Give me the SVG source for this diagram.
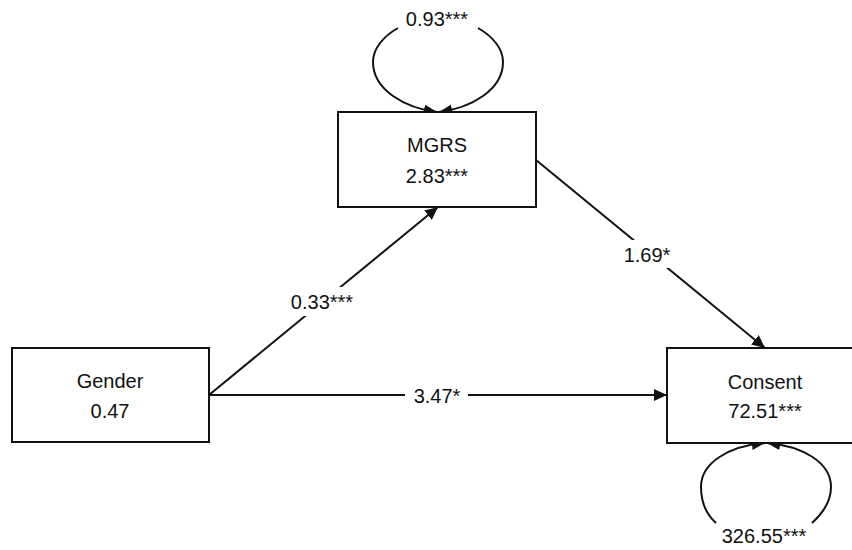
<svg xmlns="http://www.w3.org/2000/svg" width="852" height="550" viewBox="0 0 852 550">
  <defs>
    <style>
      .edge { fill: none; stroke: #111; stroke-width: 2; }
      .box { fill: #fff; stroke: #111; stroke-width: 2; }
      .lbl { font-family: "Liberation Sans", Arial, sans-serif; font-size: 20px; fill: #111; text-anchor: middle; }
      .bg { fill: #fff; stroke: none; }
    </style>
    <marker id="arrow" markerUnits="userSpaceOnUse" markerWidth="14" markerHeight="14" refX="13" refY="6" orient="auto">
      <path d="M0,0 L13,6 L0,12 Z" fill="#111"/>
    </marker>
  </defs>

  <rect width="852" height="550" fill="#fff"/>

  <!-- connectors: paths, self-loops and their coefficient labels -->
  <g id="connectors">
    <!-- Gender -> MGRS -->
    <line class="edge" x1="209" y1="395" x2="438" y2="207" marker-end="url(#arrow)"/>
    <!-- Gender -> Consent -->
    <line class="edge" x1="209" y1="395" x2="667" y2="395" marker-end="url(#arrow)"/>
    <!-- MGRS -> Consent -->
    <line class="edge" x1="536" y1="160" x2="765" y2="348" marker-end="url(#arrow)"/>

    <!-- MGRS variance loop -->
    <path class="edge" d="M398,28 C384,36 373,48 373,62 C373,90 405,108 437,112" marker-end="url(#arrow)"/>
    <path class="edge" d="M478,28 C492,36 503,48 503,62 C503,90 471,108 439,112" marker-end="url(#arrow)"/>
    <!-- Consent variance loop -->
    <path class="edge" d="M716,523 C706,514 701,503 701,487 C701,462 730,446 765,443" marker-end="url(#arrow)"/>
    <path class="edge" d="M812,523 C822,514 831,503 831,487 C831,462 802,446 767,443" marker-end="url(#arrow)"/>

    <!-- coefficient labels -->
    <rect class="bg" x="287" y="287" width="71" height="29"/>
    <text class="lbl" x="322" y="309">0.33***</text>
    <rect class="bg" x="405" y="382" width="63" height="26"/>
    <text class="lbl" x="437" y="403">3.47*</text>
    <rect class="bg" x="624" y="240" width="46" height="28"/>
    <text class="lbl" x="647" y="262">1.69*</text>
    <text class="lbl" x="437" y="26">0.93***</text>
    <text class="lbl" x="764" y="543">326.55***</text>
  </g>

  <g id="node-mgrs">
    <rect class="box" x="338" y="112" width="198" height="95"/>
    <text class="lbl" x="437" y="152">MGRS</text>
    <text class="lbl" x="437" y="183">2.83***</text>
  </g>

  <g id="node-gender">
    <rect class="box" x="12" y="348" width="197" height="94"/>
    <text class="lbl" x="110" y="388">Gender</text>
    <text class="lbl" x="110" y="418">0.47</text>
  </g>

  <g id="node-consent">
    <rect class="box" x="667" y="348" width="196" height="95"/>
    <text class="lbl" x="765" y="389">Consent</text>
    <text class="lbl" x="765" y="418">72.51***</text>
  </g>
</svg>
